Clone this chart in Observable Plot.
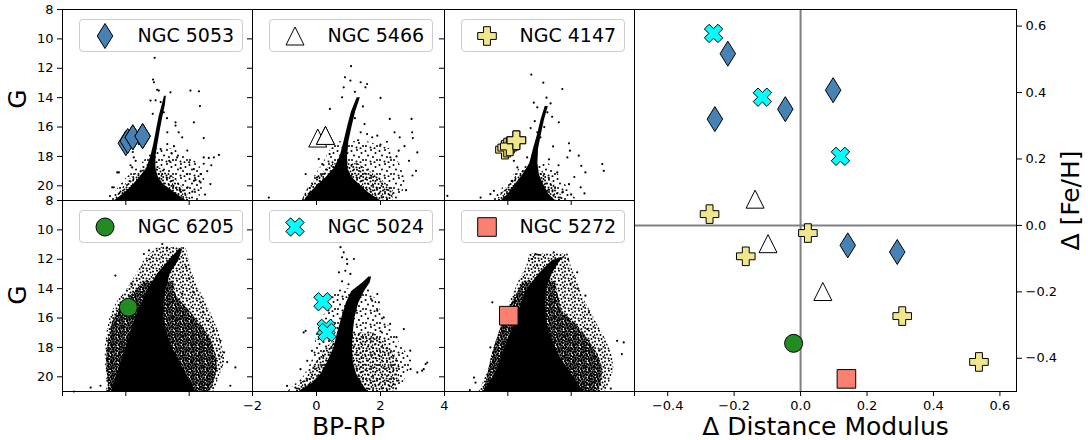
<!DOCTYPE html>
<html><head><meta charset="utf-8">
<script src="https://cdn.jsdelivr.net/npm/d3@7"></script>
<script src="https://cdn.jsdelivr.net/npm/@observablehq/plot@0.6"></script>
<style>
body{margin:0;background:#fff;font-family:"DejaVu Sans",sans-serif}
#fig{position:relative;width:1088px;height:440px;overflow:hidden;background:#fff}
.legend{position:absolute;box-sizing:border-box;border:1px solid #cccccc;border-radius:4px;background:rgba(255,255,255,0.8)}
.legend svg{display:block;overflow:visible}
</style></head>
<body>
<svg width="0" height="0" style="position:absolute" aria-hidden="true">
  <defs>
    <pattern id="spSparse" patternUnits="userSpaceOnUse" width="14" height="14">
      <g fill="black">
        <circle cx="1.5" cy="2" r="1"/><circle cx="7" cy="1" r="1"/><circle cx="11.5" cy="4" r="1"/>
        <circle cx="4" cy="6.5" r="1"/><circle cx="9" cy="8" r="1"/><circle cx="13" cy="11" r="1"/>
        <circle cx="2" cy="11" r="1"/><circle cx="6.5" cy="12.5" r="1"/><circle cx="10.5" cy="13.2" r="1"/>
      </g>
    </pattern>
    <pattern id="spMid" patternUnits="userSpaceOnUse" width="10" height="10">
      <g fill="black">
        <circle cx="1" cy="1.5" r="1"/><circle cx="5" cy="0.8" r="1"/><circle cx="8.5" cy="2.5" r="1"/>
        <circle cx="3" cy="4.5" r="1"/><circle cx="6.5" cy="5" r="1"/><circle cx="9.5" cy="6.8" r="1"/>
        <circle cx="1.2" cy="8" r="1"/><circle cx="4.5" cy="8.5" r="1"/><circle cx="7.5" cy="9" r="1"/>
        <circle cx="0.3" cy="5.2" r="1"/>
      </g>
    </pattern>
    <pattern id="spDense" patternUnits="userSpaceOnUse" width="8" height="8">
      <g fill="black">
        <circle cx="1" cy="1" r="1.2"/><circle cx="3.5" cy="0.5" r="1.2"/><circle cx="6" cy="1.5" r="1.2"/>
        <circle cx="2" cy="3" r="1.2"/><circle cx="4.5" cy="3.5" r="1.2"/><circle cx="7" cy="4" r="1.2"/>
        <circle cx="0.5" cy="5" r="1.2"/><circle cx="3" cy="5.5" r="1.2"/><circle cx="5.5" cy="6" r="1.2"/>
        <circle cx="1.5" cy="7.5" r="1.2"/><circle cx="4" cy="7.8" r="1.2"/><circle cx="6.8" cy="7" r="1.2"/>
      </g>
    </pattern>
  </defs>
</svg>
<div id="fig"></div>
<script>
// ---------------- tick labels ----------------
const BP_TICKS = [-2, 0, 2, 4];
const G_TICKS = [8, 10, 12, 14, 16, 18, 20];
const DM_TICKS = [-0.4, -0.2, 0, 0.2, 0.4, 0.6];
const FEH_TICKS = [-0.4, -0.2, 0, 0.2, 0.4, 0.6];

// ---------------- clusters ----------------
const clusterNames = ["NGC 5053", "NGC 5466", "NGC 4147", "NGC 6205", "NGC 5024", "NGC 5272"];

// target stars on each CMD (BP-RP, G)
const bp_5053 = [0.0, 0.06, 0.22, 0.22, 0.53, 0.53];
const g_5053  = [17.1, 16.95, 16.7, 16.7, 16.62, 16.62];
const bp_5466 = [0.04, 0.28, 0.28];
const g_5466  = [16.75, 16.57, 16.57];
const bp_4147 = [-0.09, -0.02, 0.06, 0.27, 0.27];
const g_4147  = [17.54, 17.4, 17.32, 16.9, 16.9];
const bp_6205 = [0.08];
const g_6205  = [15.27];
const bp_5024 = [0.2, 0.3, 0.33];
const g_5024  = [14.89, 16.7, 16.98];
const bp_5272 = [0.03];
const g_5272  = [15.84];

// right panel: Δ distance modulus, Δ[Fe/H]
const dDM_5053  = [-0.219, -0.258, -0.046, 0.098, 0.142, 0.291];
const dFeH_5053 = [0.517, 0.320, 0.350, 0.407, -0.060, -0.080];
const dDM_5466  = [-0.137, -0.098, 0.067];
const dFeH_5466 = [0.079, -0.055, -0.199];
const dDM_4147  = [-0.274, 0.022, -0.165, 0.306, 0.537];
const dFeH_4147 = [0.034, -0.023, -0.093, -0.273, -0.411];
const dDM_6205  = [-0.021];
const dFeH_6205 = [-0.355];
const dDM_5024  = [-0.262, -0.115, 0.120];
const dFeH_5024 = [0.578, 0.386, 0.208];
const dDM_5272  = [0.138];
const dFeH_5272 = [-0.462];

// CMD star fields: solid ridge / dense / sparse envelopes as [G, BP-RP left, BP-RP right]; outlying stars [BP-RP, G]
const core_5053 = [[13.9,1.22,1.28],[14.5,1.15,1.25],[15.3,1.05,1.17],[16.2,0.97,1.09],[17.2,0.88,1.01],[18.0,0.79,0.95],[18.8,0.66,0.95],[19.4,0.45,1.02],[19.9,0.25,1.18],[20.4,0.02,1.5],[21.0,-0.35,1.9]];
const dense_5053 = [[18.8,0.5,1.2],[19.6,0.1,1.6],[20.4,-0.2,1.9],[21.0,-0.4,2.1]];
const halo_5053 = [[17.5,0.9,1.6],[18.5,0.5,2.3],[19.5,0.0,2.5],[20.3,-0.3,2.4],[21.0,-0.5,2.3]];
const stars_5053 = [[0.91,11.29],[0.86,12.77],[0.99,13.47],[1.41,13.64],[2.31,13.57],[2.34,14.57],[0.78,14.2],[0.94,14.18],[1.1,14.3],[0.89,12.95],[1.04,13.52],[2.04,13.52],[2.15,15.68],[1.57,15.68],[1.57,15.9],[1.67,16.36],[1.31,16.36],[1.78,16.7],[2.46,16.75],[1.31,17.16],[1.52,17.3],[1.94,17.6],[2.46,18.07],[2.78,18.07],[2.94,17.9],[2.62,18.1],[1.62,18.07],[1.37,18.3],[2.15,18.86],[1.73,18.8],[1.94,19.2],[2.36,19.2],[2.57,19.0],[2.36,19.77],[1.5,20.0],[1.7,20.3],[1.95,20.1],[2.1,20.4],[-0.22,19.09],[-0.38,20.1],[0.15,18.6],[0.25,18.07],[0.22,17.7],[0.41,17.16],[0.31,18.3],[0.2,18.75],[-0.27,19.09],[-0.43,20.1],[2.67,19.88],[1.2,15.0],[1.3,15.4],[0.85,15.1],[1.45,17.8],[1.1,17.5],[2.0,18.4],[2.7,18.6],[2.2,19.6],[-0.1,20.5],[-0.5,20.7],[2.5,20.6],[2.46,18.5],[2.15,19.66]];

const core_5466 = [[14.0,1.27,1.37],[15.0,1.09,1.22],[16.0,0.97,1.11],[17.0,0.86,1.01],[18.0,0.74,0.97],[18.8,0.56,0.98],[19.4,0.32,1.1],[20.0,0.02,1.38],[20.5,-0.2,1.65],[21.0,-0.38,2.0]];
const dense_5466 = [[18.5,0.5,1.3],[19.5,0.0,2.0],[20.3,-0.3,2.4],[21.0,-0.45,2.4]];
const halo_5466 = [[17.0,0.6,1.6],[17.5,0.45,2.3],[18.5,0.2,2.6],[19.5,-0.1,2.8],[20.5,-0.35,2.7],[21.0,-0.45,2.6]];
const stars_5466 = [[1.08,11.86],[0.89,12.61],[1.06,12.84],[1.38,12.95],[1.58,13.07],[1.53,13.3],[0.85,13.3],[0.8,13.98],[0.42,14.77],[2.0,14.02],[2.29,15.45],[2.97,15.45],[2.99,16.36],[3.01,16.75],[2.44,16.36],[1.9,16.59],[1.58,16.48],[1.38,16.36],[1.74,16.7],[2.6,16.7],[3.15,17.73],[2.89,18.3],[3.11,18.98],[2.57,17.61],[2.31,18.07],[0.07,18.18],[-0.34,19.2],[-1.49,20.8],[0.41,17.84],[0.18,18.52],[0.02,19.43],[1.2,13.6],[1.45,14.6],[1.2,15.4],[1.5,15.8],[1.3,16.9],[2.0,17.2],[2.2,17.0],[2.75,17.3],[2.5,18.0],[3.0,19.3],[2.8,20.3]];

const core_4147 = [[14.6,1.18,1.28],[15.5,1.05,1.16],[16.5,0.94,1.06],[17.5,0.81,0.97],[18.5,0.69,0.95],[19.3,0.46,1.0],[20.0,0.2,1.15],[20.6,0.0,1.3],[21.0,-0.2,1.5]];
const dense_4147 = [[19.0,0.4,1.1],[20.0,0.0,1.5],[21.0,-0.35,1.8]];
const halo_4147 = [[18.5,0.5,1.3],[19.5,0.1,1.7],[20.5,-0.3,2.0],[21.0,-0.5,2.2]];
const stars_4147 = [[0.74,12.43],[1.12,12.98],[1.72,13.41],[0.82,14.34],[0.93,14.66],[1.35,14.39],[1.22,14.0],[1.61,15.68],[0.72,16.07],[0.93,16.36],[1.03,16.7],[1.43,17.32],[1.93,17.11],[1.88,18.07],[1.96,17.61],[2.24,17.95],[2.32,18.64],[2.45,19.09],[2.98,18.52],[3.03,18.98],[1.56,19.09],[1.93,19.89],[1.24,20.34],[2.42,20.52],[1.72,20.45],[-0.44,20.34],[-0.55,20.57],[-0.86,20.8],[-1.91,20.68],[0.19,18.3],[0.3,18.75],[0.14,19.66],[0.61,18.07],[1.25,15.0],[1.4,15.3],[1.15,16.0],[0.85,15.6],[1.3,18.2],[1.6,18.6],[2.1,19.4],[2.0,20.6],[2.3,20.1]];

const core_6205 = [[11.3,1.7,1.8],[12.1,1.36,1.67],[13.0,1.0,1.4],[14.0,0.72,1.28],[15.0,0.5,1.2],[16.0,0.3,1.2],[17.0,0.15,1.3],[18.0,0.0,1.45],[19.0,-0.15,1.7],[20.0,-0.3,1.95],[21.0,-0.45,2.2]];
const dense_6205 = [[13.5,0.6,1.5],[14.5,0.15,1.6],[15.5,-0.25,2.0],[16.5,-0.45,2.4],[17.5,-0.55,2.7],[18.5,-0.6,2.85],[19.5,-0.6,2.9],[20.5,-0.55,2.75],[21.0,-0.55,2.65]];
const halo_6205 = [[11.2,1.0,1.9],[12.0,0.6,2.0],[13.0,0.35,2.1],[14.0,0.05,2.3],[15.0,-0.3,2.55],[16.0,-0.5,2.75],[17.0,-0.6,2.95],[18.0,-0.65,3.05],[19.0,-0.65,3.15],[20.0,-0.6,2.95],[21.0,-0.6,2.8]];
const stars_6205 = [[-0.33,13.11],[0.18,13.68],[2.15,14.25],[2.36,14.93],[1.78,14.36],[2.78,16.86],[2.99,17.55],[3.1,18.34],[2.94,18.57],[3.46,19.36],[3.3,20.61],[-0.8,20.61],[-1.11,20.73],[-1.64,21.0],[-0.54,20.05],[-0.59,18.8],[-0.43,16.86],[-0.33,16.3],[2.57,19.48],[2.78,20.05],[0.57,11.64],[0.73,11.4],[1.15,10.96],[1.3,11.2],[0.75,12.0],[1.9,12.5],[2.0,13.3],[2.45,15.6],[2.6,16.2],[3.2,19.0],[0.1,14.5],[-0.15,15.4]];

const core_5024 = [[13.2,1.64,1.72],[13.6,1.45,1.68],[14.2,1.1,1.5],[15.0,0.93,1.32],[16.0,0.79,1.2],[17.0,0.66,1.15],[18.0,0.55,1.12],[19.0,0.35,1.15],[19.8,0.15,1.25],[20.4,-0.1,1.4],[21.0,-0.55,1.6]];
const dense_5024 = [[17.0,0.9,1.8],[18.0,0.3,2.3],[19.0,0.0,2.6],[20.0,-0.3,2.6],[21.0,-0.7,2.5]];
const halo_5024 = [[14.0,0.6,1.7],[15.0,0.4,1.9],[16.0,0.2,2.1],[17.0,0.0,2.4],[18.0,-0.05,2.7],[19.0,-0.15,3.0],[20.0,-0.4,2.8],[21.0,-0.9,2.6]];
const stars_5024 = [[0.75,11.18],[0.8,11.87],[0.85,11.53],[0.96,12.32],[0.9,12.78],[1.06,13.0],[0.7,12.89],[1.17,11.98],[1.9,14.37],[1.74,14.82],[1.95,14.93],[1.9,15.5],[2.1,15.96],[2.73,16.75],[-0.34,16.87],[3.46,19.03],[3.35,19.48],[3.15,19.7],[2.94,19.48],[-0.14,18.23],[-0.29,18.91],[-0.5,19.48],[-0.92,20.62],[-0.66,20.73],[3.41,19.13],[3.3,19.58],[2.93,18.22],[-0.4,16.98],[2.3,16.4],[2.5,17.3],[2.0,16.9],[0.95,12.0],[0.8,13.5],[1.0,13.7]];

const core_5272 = [[11.9,1.66,1.78],[12.1,1.4,1.66],[13.0,0.98,1.4],[14.1,0.6,1.22],[15.3,0.38,1.18],[16.4,0.22,1.25],[17.5,0.0,1.4],[18.7,-0.2,1.65],[19.8,-0.4,2.0],[21.0,-0.75,2.4]];
const dense_5272 = [[13.5,0.5,1.5],[15.5,0.0,1.7],[16.5,-0.2,2.2],[17.5,-0.35,2.55],[18.5,-0.5,2.85],[19.5,-0.6,3.0],[20.5,-0.7,2.95],[21.0,-0.8,2.85]];
const halo_5272 = [[11.6,0.7,1.9],[12.5,0.6,2.0],[13.5,0.35,2.2],[14.5,0.15,2.35],[15.5,-0.05,2.6],[16.5,-0.2,2.85],[17.5,-0.35,3.1],[18.5,-0.5,3.3],[19.5,-0.6,3.35],[20.5,-0.8,3.2],[21.0,-0.9,3.1]];
const stars_5272 = [[0.87,11.64],[0.98,11.7],[1.45,11.53],[0.77,11.98],[0.93,12.43],[2.19,12.89],[1.98,13.68],[2.45,14.48],[2.56,15.62],[3.45,17.55],[2.51,16.75],[-0.49,14.93],[-0.55,18.0],[-1.07,20.05],[-1.02,20.39],[-0.13,16.87],[3.6,18.45],[3.66,17.66],[3.25,20.8],[2.9,18.2],[-1.2,20.9],[1.9,12.0],[2.2,14.0]];

// ---------------- marker shapes ----------------
const R = s => Math.sqrt(s / Math.PI);
const symThinDiamond = {draw(c, s) { const r = R(s), w = r * 0.62; c.moveTo(0, -r); c.lineTo(w, 0); c.lineTo(0, r); c.lineTo(-w, 0); c.closePath(); }};
const symTriangle = {draw(c, s) { const r = R(s); c.moveTo(0, -r); c.lineTo(r, r); c.lineTo(-r, r); c.closePath(); }};
const plusPts = (r, a) => [[-a,-r],[a,-r],[a,-a],[r,-a],[r,a],[a,a],[a,r],[-a,r],[-a,a],[-r,a],[-r,-a],[-a,-a]];
const symPlus = {draw(c, s) { const r = R(s), a = r * 0.37; plusPts(r, a).forEach(([x, y], i) => i ? c.lineTo(x, y) : c.moveTo(x, y)); c.closePath(); }};
const symX = {draw(c, s) { const r = R(s), a = r * 0.35, k = Math.SQRT1_2; plusPts(r, a).forEach(([x, y], i) => { const X = (x - y) * k, Y = (x + y) * k; i ? c.lineTo(X, Y) : c.moveTo(X, Y); }); c.closePath(); }};
const symSquare = {draw(c, s) { const r = R(s); c.rect(-r, -r, 2 * r, 2 * r); }};
const symCircle = d3.symbolCircle;

const clusters = [
  {name: clusterNames[0], sym: symThinDiamond, r: 12.5, fill: "#4682b4", bp: bp_5053, g: g_5053, dm: dDM_5053, feh: dFeH_5053, core: core_5053, dense: dense_5053, denseFill: "url(#spMid)", halo: halo_5053, haloFill: "url(#spSparse)", stars: stars_5053},
  {name: clusterNames[1], sym: symTriangle, r: 9, fill: "#ffffff", bp: bp_5466, g: g_5466, dm: dDM_5466, feh: dFeH_5466, core: core_5466, dense: dense_5466, denseFill: "url(#spMid)", halo: halo_5466, haloFill: "url(#spSparse)", stars: stars_5466},
  {name: clusterNames[2], sym: symPlus, r: 9.3, fill: "#f0e68c", bp: bp_4147, g: g_4147, dm: dDM_4147, feh: dFeH_4147, core: core_4147, dense: dense_4147, denseFill: "url(#spMid)", halo: halo_4147, haloFill: "url(#spSparse)", stars: stars_4147},
  {name: clusterNames[3], sym: symCircle, r: 9, fill: "#228b22", bp: bp_6205, g: g_6205, dm: dDM_6205, feh: dFeH_6205, core: core_6205, dense: dense_6205, denseFill: "url(#spDense)", halo: halo_6205, haloFill: "url(#spMid)", stars: stars_6205},
  {name: clusterNames[4], sym: symX, r: 9.6, fill: "#00ffff", bp: bp_5024, g: g_5024, dm: dDM_5024, feh: dFeH_5024, core: core_5024, dense: dense_5024, denseFill: "url(#spMid)", halo: halo_5024, haloFill: "url(#spSparse)", stars: stars_5024},
  {name: clusterNames[5], sym: symSquare, r: 9.3, fill: "#fa8072", bp: bp_5272, g: g_5272, dm: dDM_5272, feh: dFeH_5272, core: core_5272, dense: dense_5272, denseFill: "url(#spDense)", halo: halo_5272, haloFill: "url(#spMid)", stars: stars_5272}
];

// ---------------- layout ----------------
const fig = document.getElementById("fig");
const colX = [62, 252, 444], colW = [190, 192, 190];
const rowY = [9, 200], rowH = 191;
const fmtInt = d3.format("d");
const fmt1 = d3.format(".1f");
const blank = () => "";
const baseStyle = {background: "transparent", overflow: "visible", fontFamily: "DejaVu Sans", fontSize: "13px", color: "black"};
const BIG = 25;

function place(el, left, top) {
  const d = document.createElement("div");
  d.style.cssText = `position:absolute;left:${left}px;top:${top}px;`;
  d.appendChild(el);
  fig.appendChild(d);
}

const bands = a => a.map(([G, lo, hi]) => ({G, lo, hi}));
const pts = a => a.map(([c, G]) => ({c, G}));

clusters.forEach((cl, i) => {
  const col = i % 3, row = Math.floor(i / 3);
  const marks = [];
  marks.push(Plot.areaX(bands(cl.halo), {y: "G", x1: "lo", x2: "hi", fill: cl.haloFill}));
  marks.push(Plot.areaX(bands(cl.dense), {y: "G", x1: "lo", x2: "hi", fill: cl.denseFill}));
  marks.push(Plot.areaX(bands(cl.core), {y: "G", x1: "lo", x2: "hi", fill: "black"}));
  marks.push(Plot.dot(pts(cl.stars), {x: "c", y: "G", r: 1.1, fill: "black"}));
  marks.push(Plot.dot(cl.bp.map((c, k) => ({c, G: cl.g[k]})), {x: "c", y: "G", r: cl.r, symbol: cl.sym, fill: cl.fill, stroke: "black", strokeWidth: 1}));
  marks.push(Plot.frame({stroke: "black"}));
  if (col === 0) marks.push(Plot.text(["G"], {text: d => d, frameAnchor: "left", dx: -45, dy: row === 0 ? -6 : -1, rotate: -90, textAnchor: "middle", lineAnchor: "middle", fontSize: BIG, fill: "black"}));
  if (row === 1 && col === 1) marks.push(Plot.text(["BP-RP"], {text: d => d, frameAnchor: "bottom", dy: 35, textAnchor: "middle", lineAnchor: "middle", fontSize: BIG, fill: "black"}));
  const svg = Plot.plot({
    width: colW[col], height: rowH, margin: 0,
    x: {domain: [-2, 4], ticks: BP_TICKS, tickSize: 5, tickPadding: 4, tickFormat: (row === 1 && col === 1) ? fmtInt : blank, label: null},
    y: {domain: [21, 8], ticks: G_TICKS, tickSize: 5, tickPadding: 4, tickFormat: col === 0 ? fmtInt : blank, label: null},
    style: baseStyle,
    marks
  });
  place(svg, colX[col], rowY[row]);
});

// right panel
{
  const marks = [
    Plot.ruleX([0], {stroke: "#808080", strokeWidth: 2}),
    Plot.ruleY([0], {stroke: "#808080", strokeWidth: 2})
  ];
  clusters.forEach(cl => {
    marks.push(Plot.dot(cl.dm.map((d, k) => ({d, f: cl.feh[k]})), {x: "d", y: "f", r: cl.r, symbol: cl.sym, fill: cl.fill, stroke: "black", strokeWidth: 1}));
  });
  marks.push(Plot.frame({stroke: "black"}));
  marks.push(Plot.text(["\u0394 Distance Modulus"], {text: d => d, frameAnchor: "bottom", dy: 35, textAnchor: "middle", lineAnchor: "middle", fontSize: BIG, fill: "black"}));
  marks.push(Plot.text(["\u0394 [Fe/H]"], {text: d => d, frameAnchor: "right", dx: 54, rotate: -90, textAnchor: "middle", lineAnchor: "middle", fontSize: BIG, fill: "black"}));
  const svg = Plot.plot({
    width: 382, height: 382, margin: 0,
    x: {domain: [-0.5, 0.65], ticks: DM_TICKS, tickSize: 5, tickPadding: 4, tickFormat: fmt1, label: null},
    y: {domain: [-0.5, 0.65], axis: "right", ticks: FEH_TICKS, tickSize: 5, tickPadding: 4, tickFormat: fmt1, label: null},
    style: baseStyle,
    marks
  });
  place(svg, 634, 9);
}

// legends (one per CMD panel)
clusters.forEach((cl, i) => {
  const col = i % 3, row = Math.floor(i / 3);
  const box = document.createElement("div");
  box.className = "legend";
  box.style.left = (colX[col] + 17) + "px";
  box.style.top = (rowY[row] + 10) + "px";
  box.style.width = "164px";
  box.style.height = "33px";
  const s = d3.create("svg").attr("width", 162).attr("height", 31);
  s.append("path").attr("transform", "translate(25,16)")
    .attr("d", d3.symbol(cl.sym, Math.PI * cl.r * cl.r)())
    .attr("fill", cl.fill).attr("stroke", "black").attr("stroke-width", 1);
  s.append("text").attr("x", 57.5).attr("y", 21.5).attr("font-size", 19)
    .attr("font-family", "DejaVu Sans").attr("fill", "black").text(cl.name);
  box.appendChild(s.node());
  fig.appendChild(box);
});
</script>
</body></html>
